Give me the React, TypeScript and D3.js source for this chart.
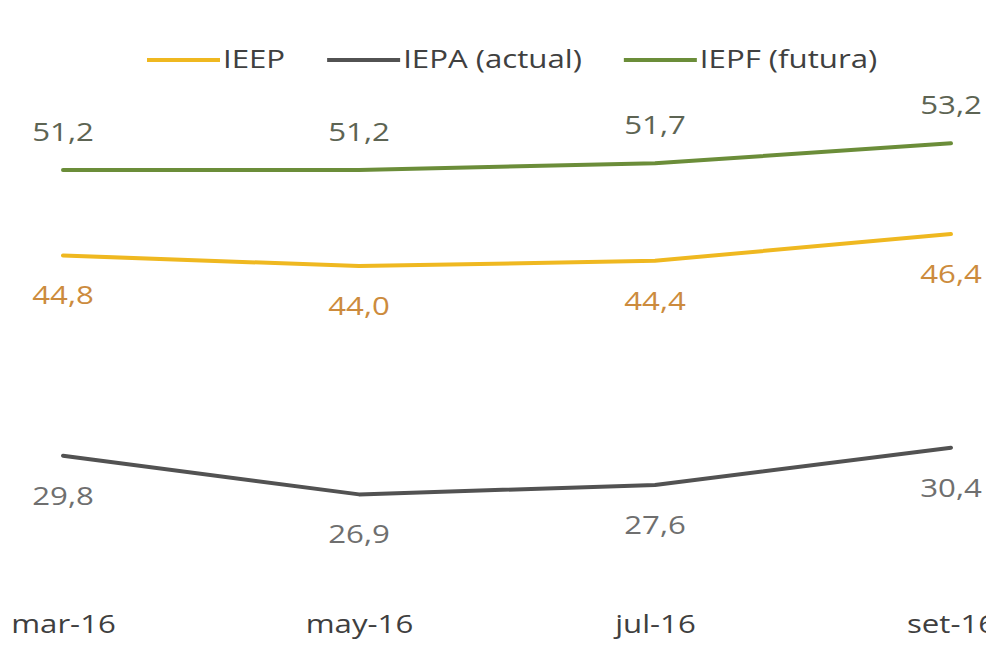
import { useEffect, useRef } from "react";
import * as d3 from "d3";

// data
const months = ["mar-16", "may-16", "jul-16", "set-16"];
const ieep = [44.8, 44.0, 44.4, 46.4];
const iepa = [29.8, 26.9, 27.6, 30.4];
const iepf = [51.2, 51.2, 51.7, 53.2];
const seriesNames = ["IEEP", "IEPA (actual)", "IEPF (futura)"];

const W = 986;
const H = 651;
const FONT = "'Open Sans', sans-serif";
const SX = 1.2; // the source text is a bit wide, stretch horizontally

const esLocale = d3.formatLocale({
    decimal: ",",
    thousands: ".",
    grouping: [3],
    currency: ["", ""],
});
const fmt = esLocale.format(".1f");

export default function App() {
    const ref = useRef<SVGSVGElement>(null);

    useEffect(() => {
        const svg = d3.select(ref.current);
        svg.selectAll("*").remove();

        const x = d3.scalePoint<string>().domain(months).range([63, 951]);
        const y = d3.scaleLinear().domain([0, 60]).range([853.5, 52.5]);

        const series = [
            { name: seriesNames[0], values: ieep, color: "#efb820", label: "#cc8b3d", dy: 49 },
            { name: seriesNames[1], values: iepa, color: "#525252", label: "#6f6f6f", dy: 49 },
            { name: seriesNames[2], values: iepf, color: "#6b8d39", label: "#5d6453", dy: -29 },
        ];

        const line = d3
            .line<number>()
            .x((d, i) => x(months[i])!)
            .y((d) => y(d));

        // lines
        const lines = svg.append("g").classed("lines", true);
        series.forEach((s) => {
            lines
                .append("path")
                .datum(s.values)
                .attr("fill", "none")
                .attr("stroke", s.color)
                .attr("stroke-width", 4)
                .attr("stroke-linejoin", "round")
                .attr("stroke-linecap", "round")
                .attr("d", line);
        });

        // data labels
        const labels = svg.append("g").classed("labels", true);
        series.forEach((s) => {
            labels
                .selectAll(null)
                .data(s.values)
                .enter()
                .append("g")
                .attr("transform", (d, i) => `translate(${x(months[i])},${y(d) + s.dy}) scale(${SX},1)`)
                .append("text")
                .attr("text-anchor", "middle")
                .attr("font-family", FONT)
                .attr("font-size", 26)
                .attr("fill", s.label)
                .text((d) => fmt(d));
        });

        // x axis, labels only
        const xAxis = d3.axisBottom(x).tickSize(0);
        const axisG = svg
            .append("g")
            .classed("axis x", true)
            .attr("transform", "translate(0,633)")
            .call(xAxis);
        axisG.select(".domain").remove();
        axisG
            .selectAll("text")
            .attr("y", 0)
            .attr("dy", 0)
            .attr("font-family", FONT)
            .attr("font-size", 26)
            .attr("fill", "#3f3f3f")
            .attr("transform", `scale(${SX},1)`);

        // legend
        const legend = svg.append("g").classed("legend", true);
        let lx = 147;
        series.forEach((s) => {
            legend
                .append("line")
                .attr("x1", lx)
                .attr("x2", lx + 73)
                .attr("y1", 60)
                .attr("y2", 60)
                .attr("stroke", s.color)
                .attr("stroke-width", 4);
            const tg = legend
                .append("g")
                .attr("transform", `translate(${lx + 76},68) scale(${SX},1)`);
            const t = tg
                .append("text")
                .attr("font-family", FONT)
                .attr("font-size", 26)
                .attr("fill", "#404040")
                .text(s.name);
            const tw = (t.node() as SVGTextElement).getComputedTextLength() * SX;
            lx = lx + 76 + tw + 42;
        });
    }, []);

    return (
        <svg
            ref={ref}
            width={W}
            height={H}
            style={{ position: "absolute", left: 0, top: 0, overflow: "hidden", background: "#fff" }}
        ></svg>
    );
}
